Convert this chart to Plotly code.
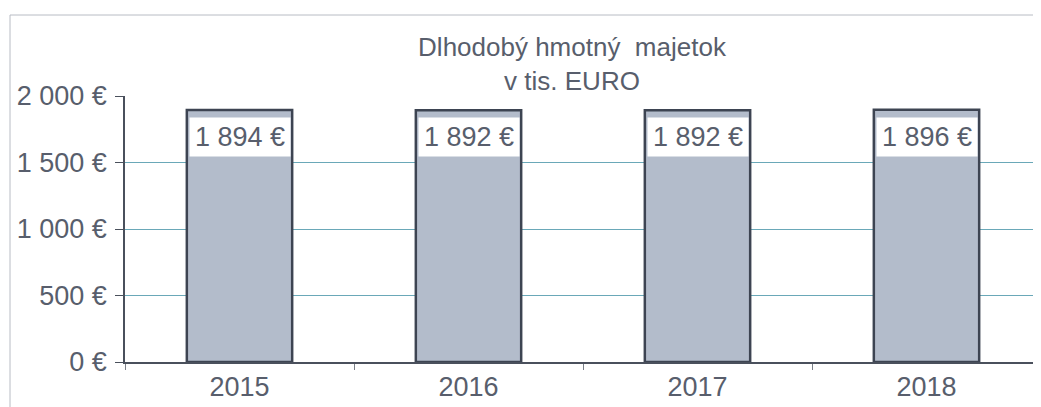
import plotly.graph_objects as go

years = ["2015", "2016", "2017", "2018"]
values = [1894, 1892, 1892, 1896]
labels = ["1 894 €", "1 892 €", "1 892 €", "1 896 €"]
y_ticks = [0, 500, 1000, 1500, 2000]
y_tick_text = ["0 €", "500 €", "1 000 €", "1 500 €", "2 000 €"]

txt = "#585e6c"
font = "Liberation Sans, Arial, sans-serif"

fig = go.Figure()
fig.add_trace(go.Bar(
    x=years, y=values, width=0.46,
    marker=dict(color="#b3bccb", line=dict(color="#3d4452", width=2.5)),
    hoverinfo="skip",
))

for i, (v, lab) in enumerate(zip(values, labels)):
    fig.add_annotation(
        x=i, y=v, xref="x", yref="y", text=lab, showarrow=False,
        yanchor="top", yshift=-7, width=98, height=36,
        bgcolor="white", font=dict(family=font, size=27, color=txt),
    )

fig.update_layout(
    width=1033, height=399,
    margin=dict(l=117, r=0, t=88, b=45, autoexpand=False),
    paper_bgcolor="white", plot_bgcolor="white",
    showlegend=False,
    title=dict(
        text="Dlhodobý hmotný\u00a0 majetok<br>v tis. EURO",
        x=564 / 1033, xanchor="center", xref="container",
        y=1 - 48 / 399, yanchor="top", yref="container",
        font=dict(family=font, size=26, color=txt),
    ),
    xaxis=dict(
        type="category",
        showgrid=False, showline=True, linecolor="#4a505c", linewidth=1.5,
        ticks="outside", tickson="boundaries", ticklen=6, tickcolor="#7a7f88",
        tickfont=dict(family=font, size=27, color=txt),
        range=[-0.5, 3.5], automargin=False,
    ),
    yaxis=dict(
        range=[0, 2000], tickvals=y_ticks, ticktext=y_tick_text,
        showgrid=True, gridcolor="#6aa8b8", gridwidth=1,
        showline=True, linecolor="#4a505c", linewidth=1.5,
        ticks="outside", ticklen=8, tickcolor="#4a505c",
        tickfont=dict(family=font, size=27, color=txt),
        ticklabelstandoff=3,
        zeroline=False, automargin=False,
    ),
    shapes=[
        dict(type="line", xref="paper", yref="paper",
             x0=-115 / 916, x1=1.0, y0=1 + 81 / 266, y1=1 + 81 / 266,
             line=dict(color="#b8bcc4", width=1)),
        dict(type="line", xref="paper", yref="paper",
             x0=-115 / 916, x1=-115 / 916, y0=1 + 81 / 266, y1=-45 / 266,
             line=dict(color="#b8bcc4", width=1)),
    ],
)

fig.write_html("out.html")
